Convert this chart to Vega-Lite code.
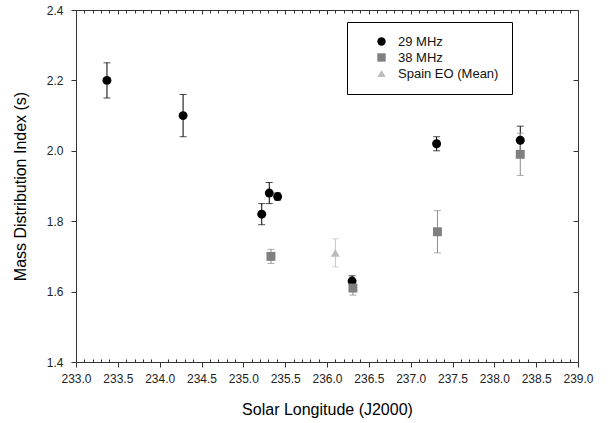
{
  "$schema": "https://vega.github.io/schema/vega-lite/v6.json",
  "width": 502,
  "height": 352,
  "autosize": {"type": "none"},
  "padding": {"left": 76, "top": 10, "right": 32, "bottom": 61},
  "background": "white",
  "config": {
    "view": {"stroke": null},
    "font": "Liberation Sans",
    "axis": {
      "grid": false,
      "domainColor": "#333333",
      "tickColor": "#333333",
      "labelColor": "#222222",
      "titleColor": "#000000",
      "labelFont": "Liberation Sans",
      "titleFont": "Liberation Sans",
      "labelFontSize": 12,
      "titleFontSize": 16,
      "titleFontWeight": "normal",
      "labelFlush": false,
      "labelOverlap": false
    }
  },
  "data": {
    "values": [
      {"series": "29 MHz", "lon": 233.37, "mdi": 2.20, "lo": 2.15, "hi": 2.25},
      {"series": "29 MHz", "lon": 234.28, "mdi": 2.10, "lo": 2.04, "hi": 2.16},
      {"series": "29 MHz", "lon": 235.22, "mdi": 1.82, "lo": 1.79, "hi": 1.85},
      {"series": "29 MHz", "lon": 235.31, "mdi": 1.88, "lo": 1.85, "hi": 1.91},
      {"series": "29 MHz", "lon": 235.41, "mdi": 1.87, "lo": 1.86, "hi": 1.88},
      {"series": "29 MHz", "lon": 236.30, "mdi": 1.63, "lo": 1.62, "hi": 1.645},
      {"series": "29 MHz", "lon": 237.31, "mdi": 2.02, "lo": 2.00, "hi": 2.04},
      {"series": "29 MHz", "lon": 238.31, "mdi": 2.03, "lo": 1.99, "hi": 2.07},
      {"series": "38 MHz", "lon": 235.33, "mdi": 1.70, "lo": 1.68, "hi": 1.72},
      {"series": "38 MHz", "lon": 236.31, "mdi": 1.61, "lo": 1.59, "hi": 1.62},
      {"series": "38 MHz", "lon": 237.32, "mdi": 1.77, "lo": 1.71, "hi": 1.83},
      {"series": "38 MHz", "lon": 238.31, "mdi": 1.99, "lo": 1.93, "hi": 2.05},
      {"series": "Spain EO (Mean)", "lon": 236.10, "mdi": 1.71, "lo": 1.67, "hi": 1.75}
    ]
  },
  "resolve": {"axis": {"x": "independent", "y": "independent"}},
  "layer": [
    {
      "mark": {"type": "rule", "strokeWidth": 1},
      "encoding": {
        "x": {
          "field": "lon", "type": "quantitative",
          "scale": {"domain": [233, 239], "nice": false, "zero": false},
          "axis": {
            "orient": "bottom",
            "values": [233, 233.5, 234, 234.5, 235, 235.5, 236, 236.5, 237, 237.5, 238, 238.5, 239],
            "format": ".1f", "tickSize": 5, "labelPadding": 6,
            "title": "Solar Longitude (J2000)", "titlePadding": 17
          }
        },
        "y": {
          "field": "lo", "type": "quantitative",
          "scale": {"domain": [1.4, 2.4], "nice": false, "zero": false},
          "axis": {
            "orient": "left",
            "values": [1.4, 1.6, 1.8, 2.0, 2.2, 2.4],
            "format": ".1f", "tickSize": 5, "labelPadding": 8,
            "title": "Mass Distribution Index (s)", "titlePadding": 18
          }
        },
        "y2": {"field": "hi"},
        "stroke": {
          "field": "series", "type": "nominal",
          "scale": {"range": ["#000000", "#8a8a8a", "#c4c4c4"]},
          "legend": null
        }
      }
    },
    {
      "mark": {"type": "tick", "orient": "horizontal", "size": 7, "thickness": 1},
      "encoding": {
        "x": {"field": "lon", "type": "quantitative", "axis": null},
        "y": {"field": "lo", "type": "quantitative", "axis": null},
        "fill": {
          "field": "series", "type": "nominal",
          "scale": {"range": ["#000000", "#8a8a8a", "#c4c4c4"]},
          "legend": null
        }
      }
    },
    {
      "mark": {"type": "tick", "orient": "horizontal", "size": 7, "thickness": 1},
      "encoding": {
        "x": {"field": "lon", "type": "quantitative", "axis": null},
        "y": {"field": "hi", "type": "quantitative", "axis": null},
        "fill": {
          "field": "series", "type": "nominal",
          "legend": null
        }
      }
    },
    {
      "mark": {"type": "point", "filled": true, "size": 80, "opacity": 1},
      "encoding": {
        "x": {
          "field": "lon", "type": "quantitative",
          "axis": {"orient": "top", "values": [233, 233.5, 234, 234.5, 235, 235.5, 236, 236.5, 237, 237.5, 238, 238.5, 239], "labels": false, "tickSize": -4, "title": null}
        },
        "y": {
          "field": "mdi", "type": "quantitative",
          "axis": {"orient": "right", "values": [1.4, 1.6, 1.8, 2.0, 2.2, 2.4], "labels": false, "tickSize": -5, "title": null}
        },
        "color": {
          "field": "series", "type": "nominal",
          "scale": {"domain": ["29 MHz", "38 MHz", "Spain EO (Mean)"], "range": ["#000000", "#808080", "#bcbcbc"]},
          "legend": {
            "title": null, "orient": "none", "legendX": 271, "legendY": 12,
            "strokeColor": "#000000", "fillColor": "#ffffff", "padding": 13,
            "symbolOffset": 15, "labelOffset": 10, "labelFontSize": 13,
            "labelFont": "Liberation Sans", "labelColor": "#111111",
            "symbolSize": 70, "symbolStrokeWidth": 0, "rowPadding": 2
          }
        },
        "shape": {
          "field": "series", "type": "nominal",
          "scale": {"domain": ["29 MHz", "38 MHz", "Spain EO (Mean)"], "range": ["circle", "square", "triangle-up"]}
        }
      }
    },
    {
      "mark": {"type": "point", "opacity": 0},
      "encoding": {
        "x": {
          "field": "lon", "type": "quantitative",
          "axis": {"orient": "bottom", "values": [233.1,233.2,233.3,233.4,233.6,233.7,233.8,233.9,234.1,234.2,234.3,234.4,234.6,234.7,234.8,234.9,235.1,235.2,235.3,235.4,235.6,235.7,235.8,235.9,236.1,236.2,236.3,236.4,236.6,236.7,236.8,236.9,237.1,237.2,237.3,237.4,237.6,237.7,237.8,237.9,238.1,238.2,238.3,238.4,238.6,238.7,238.8,238.9], "labels": false, "domain": false, "tickSize": -3, "title": null}
        },
        "y": {"field": "mdi", "type": "quantitative", "axis": null}
      }
    },
    {
      "mark": {"type": "point", "opacity": 0},
      "encoding": {
        "x": {
          "field": "lon", "type": "quantitative",
          "axis": {"orient": "top", "values": [233.1,233.2,233.3,233.4,233.6,233.7,233.8,233.9,234.1,234.2,234.3,234.4,234.6,234.7,234.8,234.9,235.1,235.2,235.3,235.4,235.6,235.7,235.8,235.9,236.1,236.2,236.3,236.4,236.6,236.7,236.8,236.9,237.1,237.2,237.3,237.4,237.6,237.7,237.8,237.9,238.1,238.2,238.3,238.4,238.6,238.7,238.8,238.9], "labels": false, "domain": false, "tickSize": -3, "title": null}
        },
        "y": {"field": "mdi", "type": "quantitative", "axis": null}
      }
    }
  ]
}
